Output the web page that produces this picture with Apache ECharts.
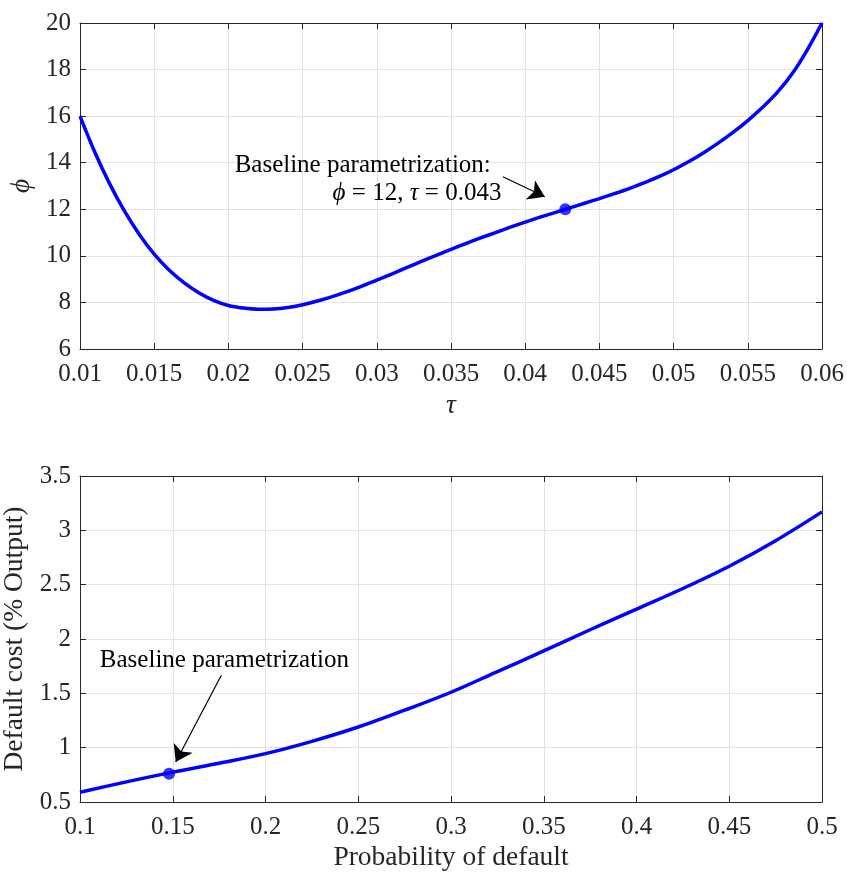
<!DOCTYPE html>
<html>
<head>
<meta charset="utf-8">
<script src="https://cdn.jsdelivr.net/npm/echarts@6/dist/echarts.min.js"></script>
<style>
html, body { margin: 0; padding: 0; background: #fff; }
#main { width: 847px; height: 873px; }
</style>
</head>
<body>
<div id="main"></div>
<script>
// top panel: phi against tau
const tau = [0.010, 0.011, 0.012, 0.013, 0.014, 0.015, 0.016, 0.017, 0.018, 0.019,
             0.020, 0.021, 0.022, 0.023, 0.024, 0.025, 0.026, 0.027, 0.028, 0.029,
             0.030, 0.031, 0.032, 0.033, 0.034, 0.035, 0.036, 0.037, 0.038, 0.039,
             0.040, 0.041, 0.042, 0.043, 0.044, 0.045, 0.046, 0.047, 0.048, 0.049,
             0.050, 0.051, 0.052, 0.053, 0.054, 0.055, 0.056, 0.057, 0.058, 0.059, 0.060];
const phi = [16.0, 14.45, 13.09, 11.92, 10.92, 10.07, 9.39, 8.85, 8.42, 8.09,
             7.87, 7.76, 7.71, 7.72, 7.78, 7.90, 8.06, 8.25, 8.46, 8.70,
             8.96, 9.22, 9.49, 9.76, 10.02, 10.28, 10.53, 10.77, 11.00, 11.23,
             11.45, 11.66, 11.86, 12.06, 12.26, 12.46, 12.67, 12.89, 13.13, 13.40,
             13.70, 14.04, 14.42, 14.84, 15.30, 15.81, 16.38, 17.03, 17.83, 18.84, 20.0];
const baseTop = [0.0427, 12];

// bottom panel: default cost against probability of default
const pDefault = [0.100, 0.125, 0.150, 0.175, 0.200, 0.225, 0.250, 0.275, 0.300,
                  0.325, 0.350, 0.375, 0.400, 0.425, 0.450, 0.475, 0.500];
const cost = [0.59, 0.685, 0.775, 0.857, 0.945, 1.058, 1.19, 1.345, 1.51,
              1.70, 1.89, 2.085, 2.275, 2.465, 2.67, 2.905, 3.17];
const baseBottom = [0.148, 0.76];

// annotation anchors (data units)
const arrowTop = [[0.0385, 13.40], [0.04132, 12.54]];
const arrowBottom = [[0.1762, 1.666], [0.1516, 0.868]];

const FONT = "'Liberation Serif', 'DejaVu Serif', serif";
const INK = '#262626';
const BLUE = '#0000ff';
const TICK = 25;
const LABEL = 27.5;

function xAx(grid, min, max, step, name, gap, top) {
  return {
    type: 'value', gridIndex: grid, min: min, max: max, interval: step,
    position: top ? 'top' : 'bottom',
    name: top ? '' : name, nameLocation: 'middle', nameGap: gap,
    nameTextStyle: { fontFamily: FONT, fontSize: LABEL, color: INK, fontStyle: name === 'τ' ? 'italic' : 'normal' },
    axisLine: { show: true, onZero: false, lineStyle: { color: INK, width: 1 } },
    axisTick: { show: true, inside: true, length: 6, lineStyle: { color: INK } },
    axisLabel: { show: !top, fontFamily: FONT, fontSize: TICK, color: INK, margin: 13 },
    splitLine: { show: !top, lineStyle: { color: '#e3e3e3', width: 1 } }
  };
}
function yAx(grid, min, max, step, name, gap, right, italic) {
  return {
    type: 'value', gridIndex: grid, min: min, max: max, interval: step,
    position: right ? 'right' : 'left',
    name: right ? '' : name, nameLocation: 'middle', nameGap: gap, nameRotate: 90,
    nameTextStyle: { fontFamily: FONT, fontSize: LABEL, color: INK, fontStyle: italic ? 'italic' : 'normal' },
    axisLine: { show: true, onZero: false, lineStyle: { color: INK, width: 1 } },
    axisTick: { show: true, inside: true, length: 6, lineStyle: { color: INK } },
    axisLabel: { show: !right, fontFamily: FONT, fontSize: TICK, color: INK, margin: 9 },
    splitLine: { show: !right, lineStyle: { color: '#e3e3e3', width: 1 } }
  };
}

const chart = echarts.init(document.getElementById('main'));

const option = {
  backgroundColor: '#fff',
  animation: false,
  grid: [
    { left: 80, right: 25, top: 23, height: 326, outerBoundsMode: 'none', containLabel: false },
    { left: 80, right: 25, top: 476, height: 326, outerBoundsMode: 'none', containLabel: false }
  ],
  xAxis: [
    xAx(0, 0.01, 0.06, 0.005, 'τ', 43, false),
    xAx(0, 0.01, 0.06, 0.005, '', 0, true),
    xAx(1, 0.1, 0.5, 0.05, 'Probability of default', 42, false),
    xAx(1, 0.1, 0.5, 0.05, '', 0, true)
  ],
  yAxis: [
    yAx(0, 6, 20, 2, 'ϕ', 38, false, true),
    yAx(0, 6, 20, 2, '', 0, true, false),
    yAx(1, 0.5, 3.5, 0.5, 'Default cost (% Output)', 44, false, false),
    yAx(1, 0.5, 3.5, 0.5, '', 0, true, false)
  ],
  series: [
    {
      type: 'line', xAxisIndex: 0, yAxisIndex: 0, smooth: 0.35, showSymbol: false,
      lineStyle: { color: BLUE, width: 3.5 },
      data: tau.map((t, i) => [t, phi[i]])
    },
    {
      type: 'scatter', xAxisIndex: 0, yAxisIndex: 0, symbolSize: 12,
      itemStyle: { color: BLUE }, data: [baseTop], z: 5
    },
    {
      type: 'line', xAxisIndex: 2, yAxisIndex: 2, smooth: 0.35, showSymbol: false,
      lineStyle: { color: BLUE, width: 3.5 },
      data: pDefault.map((p, i) => [p, cost[i]])
    },
    {
      type: 'scatter', xAxisIndex: 2, yAxisIndex: 2, symbolSize: 12,
      itemStyle: { color: BLUE }, data: [baseBottom], z: 5
    },
    {
      type: 'lines', coordinateSystem: 'cartesian2d', xAxisIndex: 0, yAxisIndex: 0,
      symbol: ['none', 'arrow'], symbolSize: 16,
      lineStyle: { color: '#000', width: 1.2, opacity: 1 },
      data: [{ coords: arrowTop }], z: 6
    },
    {
      type: 'lines', coordinateSystem: 'cartesian2d', xAxisIndex: 2, yAxisIndex: 2,
      symbol: ['none', 'arrow'], symbolSize: 16,
      lineStyle: { color: '#000', width: 1.2, opacity: 1 },
      data: [{ coords: arrowBottom }], z: 6
    }
  ]
};
chart.setOption(option);

// annotation texts, placed from data coordinates
const p1 = chart.convertToPixel({ xAxisIndex: 0, yAxisIndex: 0 }, [0.02042, 13.9]);
const p2 = chart.convertToPixel({ xAxisIndex: 0, yAxisIndex: 0 }, [0.0384, 12.69]);
const p3 = chart.convertToPixel({ xAxisIndex: 2, yAxisIndex: 2 }, [0.1107, 1.804]);
chart.setOption({
  graphic: [
    { type: 'text', x: p1[0], y: p1[1], z: 10,
      style: { text: 'Baseline parametrization:', font: '25px ' + FONT, fill: '#000',
               textAlign: 'left', textVerticalAlign: 'middle' } },
    { type: 'text', x: p2[0], y: p2[1], z: 10,
      style: { text: '{i|ϕ} = 12, {i|τ} = 0.043', font: '25px ' + FONT, fill: '#000',
               textAlign: 'right', textVerticalAlign: 'middle',
               rich: { i: { fontStyle: 'italic', fontFamily: FONT, fontSize: 25, fill: '#000' } } } },
    { type: 'text', x: p3[0], y: p3[1], z: 10,
      style: { text: 'Baseline parametrization', font: '25px ' + FONT, fill: '#000',
               textAlign: 'left', textVerticalAlign: 'middle' } }
  ]
});
</script>
</body>
</html>
